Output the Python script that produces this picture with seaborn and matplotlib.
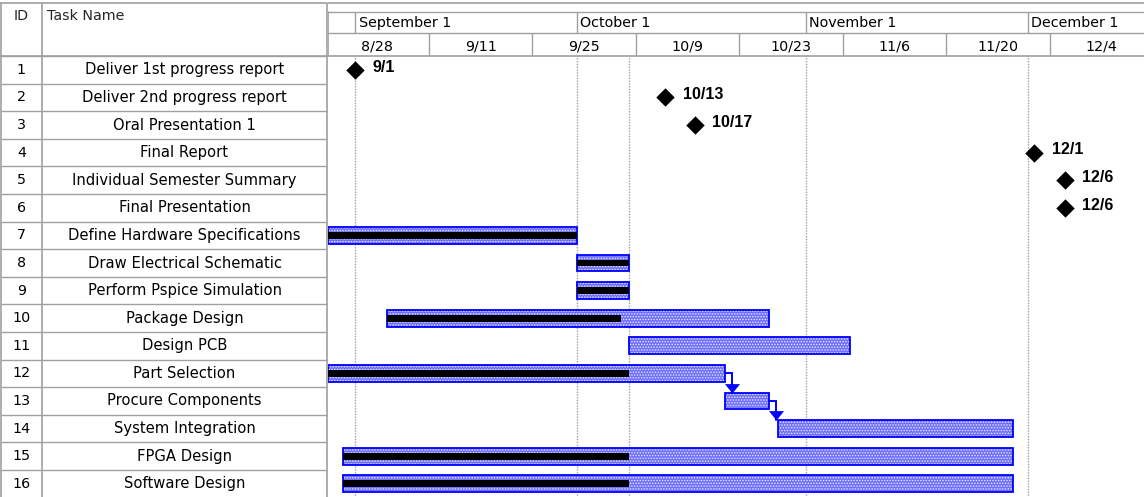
import matplotlib
matplotlib.use("Agg")
import matplotlib.pyplot as plt
import matplotlib.dates as mdates
import pandas as pd
import seaborn as sns

# ---- schedule data -------------------------------------------------------
task_ids = list(range(1, 17))
task_names = [
    "Deliver 1st progress report",
    "Deliver 2nd progress report",
    "Oral Presentation 1",
    "Final Report",
    "Individual Semester Summary",
    "Final Presentation",
    "Define Hardware Specifications",
    "Draw Electrical Schematic",
    "Perform Pspice Simulation",
    "Package Design",
    "Design PCB",
    "Part Selection",
    "Procure Components",
    "System Integration",
    "FPGA Design",
    "Software Design",
]

milestone_ids = [1, 2, 3, 4, 5, 6]
milestone_dates = ["2005-09-01", "2005-10-13", "2005-10-17",
                   "2005-12-01 22:00", "2005-12-06", "2005-12-06"]
milestone_labels = ["9/1", "10/13", "10/17", "12/1", "12/6", "12/6"]

bar_ids = [7, 8, 9, 10, 11, 12, 13, 14, 15, 16]
bar_starts = ["2005-08-28 08:00", "2005-10-01", "2005-10-01", "2005-09-05 08:00",
              "2005-10-08", "2005-08-28 08:00", "2005-10-21", "2005-10-28 06:00",
              "2005-08-30 08:00", "2005-08-30 08:00"]
bar_ends = ["2005-10-01", "2005-10-08", "2005-10-08", "2005-10-27",
            "2005-11-07", "2005-10-21", "2005-10-27", "2005-11-29",
            "2005-11-29", "2005-11-29"]
progress_ends = ["2005-10-01", "2005-10-08", "2005-10-08", "2005-10-07",
                 None, "2005-10-08", None, None,
                 "2005-10-08", "2005-10-08"]

links = [(12, 13), (13, 14)]          # finish-to-start dependencies
status_date = "2005-10-08"

month_starts = ["2005-09-01", "2005-10-01", "2005-11-01", "2005-12-01"]
month_labels = ["September 1", "October 1", "November 1", "December 1"]
week_starts = ["2005-08-28", "2005-09-11", "2005-09-25", "2005-10-09",
               "2005-10-23", "2005-11-06", "2005-11-20", "2005-12-04"]
week_labels = ["8/28", "9/11", "9/25", "10/9", "10/23", "11/6", "11/20", "12/4"]

view_start = "2005-08-28 08:00"
view_end = "2005-12-16 18:00"

# ---- styling -------------------------------------------------------------
sns.set_theme(style="white")
plt.rcParams["font.family"] = ["DejaVu Sans"]
plt.rcParams["hatch.linewidth"] = 0.7

GRID = "#a0a0a0"
BAR_FILL = "#6e6eff"
BAR_EDGE = "#0000ff"
TXT = 10.3

def dnum(s):
    return mdates.date2num(pd.Timestamp(s))

W, H, DPI = 1144, 497, 100
fig = plt.figure(figsize=(W / DPI, H / DPI), dpi=DPI)
fig.patch.set_facecolor("white")

def box(x0, y0, x1, y1):
    """Axes rectangle from a pixel box measured from the top-left corner."""
    return [x0 / W, 1 - y1 / H, (x1 - x0) / W, (y1 - y0) / H]

TABLE_R, CHART_L = 327, 328
HEAD_TOP, HEAD_BOT = 3, 56
BODY_BOT = H + 0.6

body = fig.add_axes(box(CHART_L, HEAD_BOT, W, BODY_BOT))
table = fig.add_axes(box(0, HEAD_BOT, CHART_L, BODY_BOT), sharey=body)
head = fig.add_axes(box(CHART_L, HEAD_TOP, W, HEAD_BOT), sharex=body)
thead = fig.add_axes(box(0, HEAD_TOP, CHART_L, HEAD_BOT))

for ax in (body, table, head, thead):
    ax.set_axis_off()

n = len(task_ids)
body.set_xlim(dnum(view_start), dnum(view_end))
body.set_ylim(n + 0.5, 0.5)

# ---- chart body ----------------------------------------------------------
for d in month_starts + [status_date]:
    body.axvline(dnum(d), color=GRID, lw=1, ls=(0, (1, 1)), zorder=0)

starts = [dnum(s) for s in bar_starts]
ends = [dnum(e) for e in bar_ends]
widths = [e - s for s, e in zip(starts, ends)]
BAR_H = 0.61
# stippled fill: blue ground with a fine light dot pattern, then the outline
body.barh(bar_ids, widths, left=starts, height=BAR_H, color=BAR_FILL,
          edgecolor="#e8e8ff", linewidth=0, hatch="......", zorder=2)
body.barh(bar_ids, widths, left=starts, height=BAR_H, fill=False,
          edgecolor=BAR_EDGE, linewidth=1.3, zorder=2.5)

prog_rows = [r for r, p in zip(bar_ids, progress_ends) if p]
prog_left = [s for s, p in zip(starts, progress_ends) if p]
prog_w = [dnum(p) - s for s, p in zip(starts, progress_ends) if p]
body.barh(prog_rows, prog_w, left=prog_left, height=0.25, color="black",
          linewidth=0, zorder=3)

# dependency connectors with tip-anchored triangular heads
head_marker = [(-0.8, 1.0), (0.8, 1.0), (0.0, 0.0)]
end_of = dict(zip(bar_ids, ends))
for pred, succ in links:
    x0 = end_of[pred]
    x1 = x0 + 1.0
    y1 = succ - BAR_H / 2
    body.plot([x0, x1, x1], [pred, pred, y1], color=BAR_EDGE, lw=1.4,
              solid_joinstyle="miter", zorder=4)
    body.plot([x1], [y1], marker=head_marker, ms=13.5, color=BAR_EDGE,
              markeredgewidth=0, zorder=5)

ms = pd.DataFrame({"x": [dnum(d) for d in milestone_dates],
                   "row": milestone_ids, "label": milestone_labels})
sns.scatterplot(data=ms, x="x", y="row", marker="D", s=88, color="black",
                edgecolor="black", linewidth=0, legend=False, ax=body, zorder=6)
for _, r in ms.iterrows():
    body.annotate(r["label"], (r["x"], r["row"]), xytext=(12.5, 2),
                  textcoords="offset points", ha="left", va="center",
                  fontsize=11.5, fontweight="bold", family="Liberation Sans",
                  color="black")
body.set_xlabel("")
body.set_ylabel("")
body.set_axis_off()

# ---- timescale header ----------------------------------------------------
HH = HEAD_BOT - HEAD_TOP
head.set_ylim(HH, 0)
TOP_BAND, MID_BAND = 9, 30
head.axhline(0, color=GRID, lw=1.2, clip_on=False)
head.axhline(TOP_BAND, color=GRID, lw=1)
head.axhline(MID_BAND, color=GRID, lw=1)
head.axhline(HH, color=GRID, lw=1.2, clip_on=False)
head.axvline(dnum(view_start), ymin=0, ymax=1 - TOP_BAND / HH, color=GRID, lw=1.2)
for d, lab in zip(month_starts, month_labels):
    head.vlines(dnum(d), TOP_BAND, MID_BAND, color=GRID, lw=1)
    head.annotate(lab, (dnum(d), (TOP_BAND + MID_BAND) / 2 + 1), xytext=(2.5, 0),
                  textcoords="offset points", ha="left", va="center",
                  fontsize=TXT, color="black", annotation_clip=False)
for d, lab in zip(week_starts, week_labels):
    head.vlines(dnum(d), MID_BAND, HH, color=GRID, lw=1)
    head.text(dnum(d) + 7, (MID_BAND + HH) / 2 + 1.5, lab, ha="center",
              va="center", fontsize=TXT, color="black", clip_on=True)

# ---- task table ----------------------------------------------------------
table.set_xlim(0, CHART_L)
ID_X, NAME_X = 42, TABLE_R
table.hlines([i + 0.5 for i in range(n + 1)], 1, TABLE_R, color=GRID, lw=1)
table.vlines([1, ID_X, TABLE_R], 0.5, n + 0.5, color=GRID, lw=1.2)
for tid, name in zip(task_ids, task_names):
    table.text(ID_X / 2 + 0.5, tid, str(tid), ha="center", va="center",
               fontsize=TXT, color="black")
    table.text((ID_X + NAME_X) / 2, tid, name, ha="center", va="center",
               fontsize=10.6, color="black")
table.set_axis_off()

thead.set_xlim(0, CHART_L)
thead.set_ylim(HH, 0)
thead.hlines([0, HH], 0, TABLE_R, color=GRID, lw=1.2, clip_on=False)
thead.vlines([1, ID_X, TABLE_R], 0, HH, color=GRID, lw=1.2, clip_on=False)
thead.text(ID_X / 2 + 0.5, 6, "ID", ha="center", va="top", fontsize=TXT)
thead.text(ID_X + 5, 6, "Task Name", ha="left", va="top", fontsize=TXT)

fig.savefig("out.png", dpi=DPI, facecolor="white")
